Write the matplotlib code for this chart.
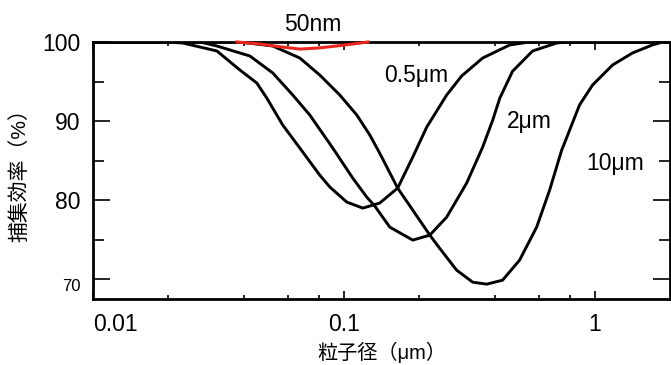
import matplotlib.pyplot as plt
from matplotlib.ticker import FixedLocator, NullFormatter

plt.rcParams["font.family"] = ["Liberation Sans", "Noto Sans CJK JP", "DejaVu Sans"]

# 0.5 um curve
x_05 = [0.01, 0.0194, 0.0228, 0.0312, 0.0385, 0.045, 0.0493, 0.0571, 0.0668, 0.0802,
        0.088, 0.1028, 0.119, 0.139, 0.164, 0.1884, 0.2142, 0.2572, 0.2951, 0.358,
        0.4587, 0.55, 2.0]
y_05 = [100, 100, 99.87, 98.86, 96.46, 94.81, 92.91, 89.49, 86.58, 83.16,
        81.65, 79.75, 78.99, 79.62, 81.52, 85.44, 89.24, 93.29, 95.7, 97.97,
        99.62, 100, 100]

# 2 um curve
x_2 = [0.01, 0.0267, 0.0312, 0.0422, 0.0521, 0.0626, 0.0732, 0.0904, 0.1086, 0.1235,
       0.133, 0.1526, 0.1884, 0.2203, 0.2572, 0.309, 0.358, 0.3926, 0.419, 0.471,
       0.566, 0.706, 0.78, 2.0]
y_2 = [100, 100, 99.49, 98.23, 96.08, 93.29, 90.76, 86.58, 82.78, 80.38,
       79.24, 76.58, 74.94, 75.57, 77.85, 82.15, 86.71, 90.13, 92.9, 96.3,
       98.86, 99.87, 100, 100]

# 10 um curve
x_10 = [0.01, 0.0385, 0.0521, 0.0668, 0.0802, 0.0964, 0.1127, 0.127, 0.139, 0.164,
        0.1884, 0.2203, 0.241, 0.2818, 0.3266, 0.3715, 0.4297, 0.5024, 0.5875, 0.662,
        0.7396, 0.773, 0.871, 0.982, 1.18, 1.417, 1.70, 1.87, 2.0]
y_10 = [100, 100, 99.49, 97.97, 95.82, 93.29, 90.76, 88.23, 85.95, 81.52,
        78.73, 75.57, 73.92, 71.14, 69.62, 69.37, 69.87, 72.41, 76.58, 81.27,
        86.33, 87.85, 92.03, 94.56, 97.09, 98.61, 99.62, 100, 100]

# 50 nm (red)
x_50 = [0.0375, 0.0463, 0.0556, 0.0668, 0.080, 0.1, 0.125]
y_50 = [100, 99.75, 99.4, 99.1, 99.25, 99.6, 100]

labels = ["0.5μm", "2μm", "10μm", "50nm"]
label_x = [0.195, 0.551, 1.213, 0.0753]
label_y = [95.8, 89.9, 84.6, 102.15]

xticks = [0.01, 0.1, 1]
xtick_labels = ["0.01", "0.1", "1"]
xminor = [0.02, 0.04, 0.06, 0.08, 0.2, 0.4, 0.6, 0.8]
yticks = [70, 80, 90, 100]
ytick_labels = ["70", "80", "90", "100"]
yminor = [75, 85, 95]


def main():
    fig = plt.figure(figsize=(6.71, 3.65), dpi=100)
    ax = fig.add_axes([0.1386, 0.181, 0.86, 0.704])

    for xs, ys in [(x_05, y_05), (x_2, y_2), (x_10, y_10)]:
        ax.plot(xs, ys, color="black", lw=2.1, solid_capstyle="round",
                solid_joinstyle="round")
    ax.plot(x_50, y_50, color="#e8261e", lw=2.2, clip_on=False, zorder=5)

    for t, x, y in zip(labels, label_x, label_y):
        ax.text(x, y, t, ha="center", va="center", fontsize=16.5, clip_on=False)

    ax.set_xscale("log")
    ax.set_xlim(0.01, 2.0)
    ax.set_ylim(67.5, 100)

    ax.set_xticks(xticks)
    ax.set_xticklabels(xtick_labels, fontsize=16.5)
    ax.xaxis.set_minor_locator(FixedLocator(xminor))
    ax.xaxis.set_minor_formatter(NullFormatter())
    ax.set_yticks(yticks)
    ax.set_yticklabels(ytick_labels, fontsize=16.5)
    ax.yaxis.set_minor_locator(FixedLocator(yminor))

    ax.tick_params(axis="both", which="both", direction="in", top=True, right=True, width=1.2)
    ax.tick_params(axis="x", which="major", length=6, pad=10)
    ax.tick_params(axis="x", which="minor", length=3)
    ax.tick_params(axis="y", which="major", length=12, pad=9)
    ax.tick_params(axis="y", which="minor", length=8)

    ax.get_xticklabels()[0].set_ha("left")
    lab70 = ax.get_yticklabels()[0]
    lab70.set_fontsize(12)
    lab70.set_va("top")

    for s in ax.spines.values():
        s.set_linewidth(2.0)

    ax.set_xlabel("粒子径（μm）", fontsize=14.5, labelpad=4)
    ax.set_ylabel("捕集効率（%）", fontsize=15, labelpad=9)

    fig.savefig("out.png", dpi=100)


if __name__ == "__main__":
    main()
